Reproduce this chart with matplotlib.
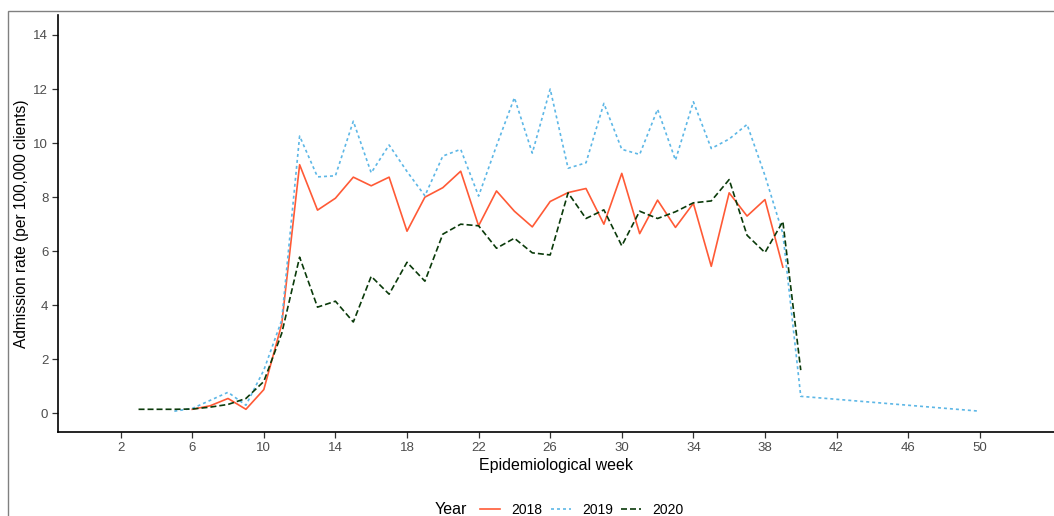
"""Weekly admission rates by year."""

import matplotlib
matplotlib.use("Agg")
import matplotlib.pyplot as plt
from matplotlib.patches import Rectangle
from matplotlib.lines import Line2D

plt.rcParams['font.family'] = ['Liberation Sans', 'DejaVu Sans']

weeks_2018 = list(range(6, 40))
rate_2018 = [0.15, 0.28, 0.55, 0.15, 0.88, 3.3, 9.2, 7.52, 7.96, 8.74,
             8.42, 8.74, 6.74, 8.0, 8.35, 8.96, 6.94, 8.23, 7.48, 6.9,
             7.84, 8.17, 8.32, 7.0, 8.88, 6.65, 7.89, 6.88, 7.77, 5.44,
             8.16, 7.3, 7.91, 5.41]

weeks_2019 = list(range(5, 41)) + [50]
rate_2019 = [0.08, 0.18, 0.48, 0.78, 0.3, 1.6, 3.45, 10.26, 8.75, 8.79,
             10.81, 8.9, 9.93, 8.95, 8.05, 9.52, 9.77, 8.04, 9.9, 11.68,
             9.63, 12.0, 9.07, 9.27, 11.47, 9.77, 9.58, 11.25, 9.37, 11.53,
             9.8, 10.15, 10.69, 8.8, 6.65, 0.63, 0.08]

weeks_2020 = list(range(3, 41))
rate_2020 = [0.15, 0.15, 0.15, 0.16, 0.23, 0.33, 0.55, 1.18, 2.96, 5.78,
             3.93, 4.15, 3.38, 5.07, 4.41, 5.59, 4.89, 6.63, 7.0, 6.94,
             6.11, 6.48, 5.94, 5.86, 8.16, 7.21, 7.53, 6.2, 7.48, 7.21,
             7.46, 7.79, 7.86, 8.65, 6.59, 5.95, 7.1, 1.6]

years = ['2018', '2019', '2020']
colors = ['#FF5A36', '#5DB7E6', '#0A3A0A']
styles = ['-', (0, (1.8, 1.8)), (0, (3.6, 1.8))]

x_ticks = list(range(2, 51, 4))
y_ticks = list(range(0, 15, 2))

W, H = 1054, 516
fig = plt.figure(figsize=(W / 100, H / 100), dpi=100)
ax = fig.add_axes([58 / W, (H - 432) / H, (W - 58) / W, (432 - 15) / H])

series = [(weeks_2018, rate_2018), (weeks_2019, rate_2019), (weeks_2020, rate_2020)]
for (wk, r), c, ls in zip(series, colors, styles):
  ax.plot(wk, r, color=c, linestyle=ls, lw=1.2)

ax.set_xlim(-1.5, 54.15)
ax.set_ylim(-0.69, 14.74)
ax.set_xticks(x_ticks)
ax.set_yticks(y_ticks)
ax.tick_params(length=4, width=0.9, color='#333333', labelcolor='#4D4D4D',
               labelsize=9.5, pad=3)
for s in ['top', 'right']:
  ax.spines[s].set_visible(False)
for s in ['left', 'bottom']:
  ax.spines[s].set_linewidth(1.2)

ax.set_xlabel('Epidemiological week', fontsize=11.5, labelpad=3)
ax.set_ylabel('Admission rate (per 100,000 clients)', fontsize=11.2, labelpad=3)

# legend along the bottom, title placed to the left
handles = [Line2D([], [], color=c, linestyle=ls, lw=1.2)
           for c, ls in zip(colors, styles)]
fig.legend(handles, years, loc='center', bbox_to_anchor=(582 / W, 1 - 510 / H),
           ncol=3, frameon=False, fontsize=10, handlelength=1.45,
           handletextpad=0.8, columnspacing=0.6)
fig.text(435 / W, 1 - 510 / H, 'Year', fontsize=11.5, ha='left', va='center')

# grey outer frame, cut off on the right and bottom
fig.add_artist(Rectangle((8 / W, -0.1), 1.2, (H - 11) / H + 0.1,
                         transform=fig.transFigure, fill=False,
                         ec='#808080', lw=1.0))

plt.savefig('out.png', dpi=100)
